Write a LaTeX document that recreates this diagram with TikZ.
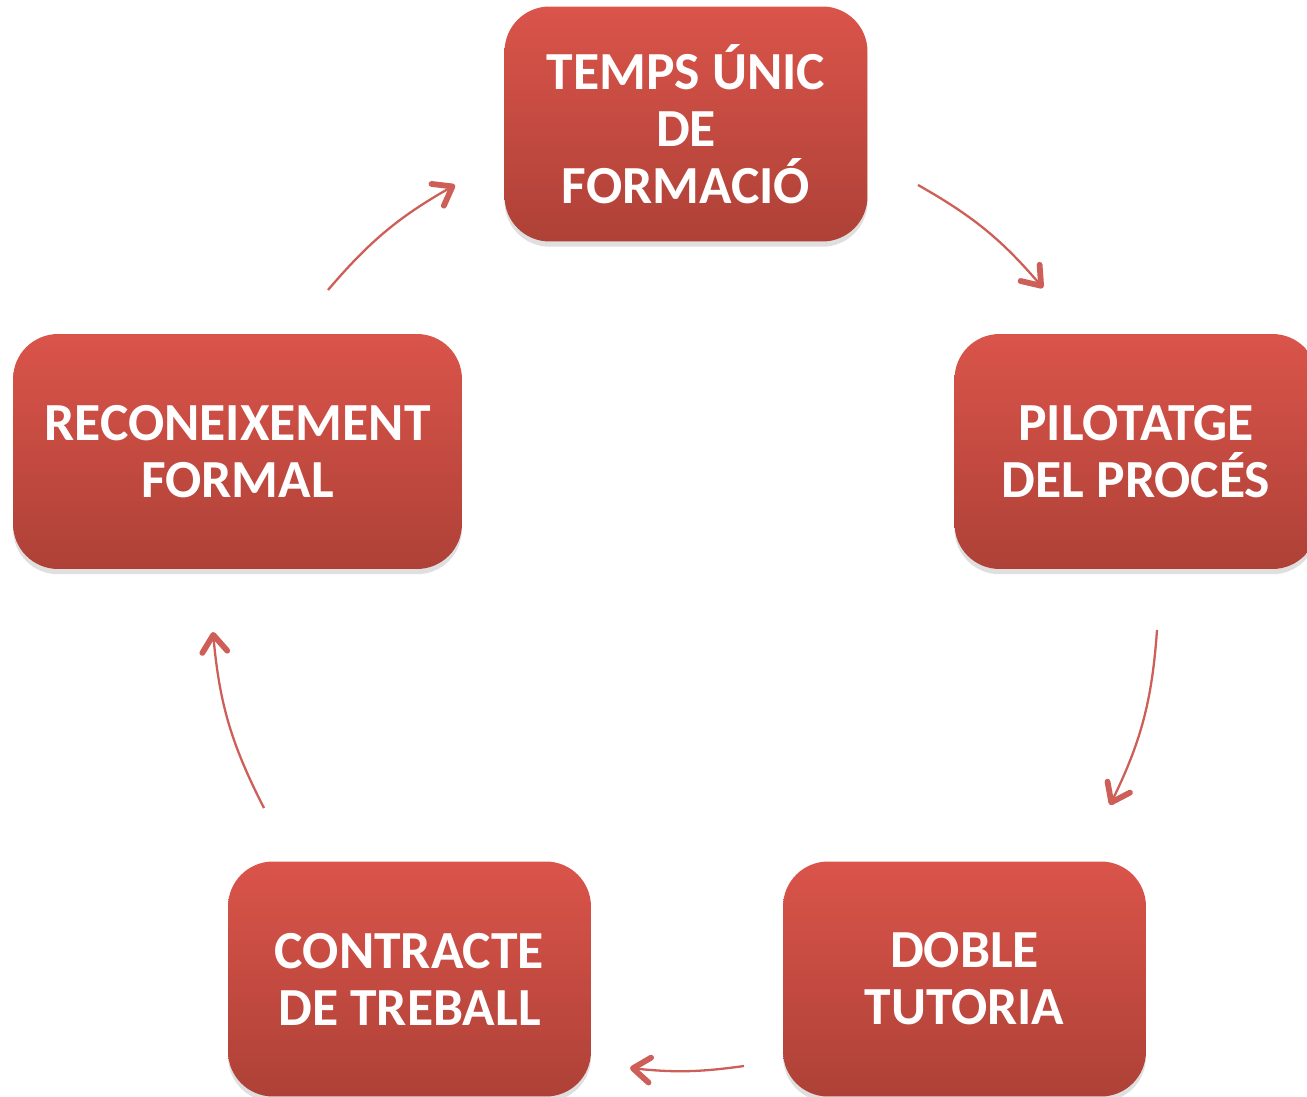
\documentclass[tikz,border=0pt]{standalone}
\usepackage{fontspec}
\setmainfont{Carlito}
\usetikzlibrary{
  positioning,
  shadows,
  arrows.meta,
  calc,
  }
\definecolor{boxtop}{HTML}{DA544A}
\definecolor{boxbot}{HTML}{AE4137}
\definecolor{arrowred}{HTML}{CD5E58}

\begin{document}
\begin{tikzpicture}[x=0.02cm, y=-0.02cm,
        stage/.style={rectangle, rounded corners=0.9cm, top color=boxtop, bottom color=boxbot,
            text=white, font=\bfseries\fontsize{30.5}{32.4}\selectfont, align=center,
            minimum width=7.26cm, minimum height=4.7cm, inner sep=0pt,
            drop shadow={shadow xshift=0pt, shadow yshift=-3pt, opacity=0.25}},
        cyc/.style={draw=arrowred, line width=1.3pt,
            -{Straight Barb[length=3.4mm, width=5mm, line width=3.3pt, round]}}]
                \useasboundingbox (0,0) rectangle (1307,1097);

                % the five stages
                \node[stage] (temps) at (686,124) {TEMPS ÚNIC\\DE\\FORMACIÓ};
                \node[stage] (pilot) at (1136,451.5) {PILOTATGE\\DEL PROCÉS};
                \node[stage] (tutor) at (964.5,979) {DOBLE\\TUTORIA};
                \node[stage] (contr) at (409.5,979) {CONTRACTE\\DE TREBALL};
                \node[stage, minimum width=8.98cm] (recon) at (237.5,451.5) {RECONEIXEMENT\\FORMAL};

                % ends of the arrows
                \coordinate (a1) at (918,185);  \coordinate (b1) at (1043,288);
                \coordinate (a2) at (1157,630); \coordinate (b2) at (1110,805);
                \coordinate (a3) at (744,1066); \coordinate (b3) at (630,1068);
                \coordinate (a4) at (264,808);  \coordinate (b4) at (213,632);
                \coordinate (a5) at (328,290);  \coordinate (b5) at (455,185);

                \draw[cyc] (a1) to[bend left=10] (b1);
                \draw[cyc] (a2) to[bend left=11] (b2);
                \draw[cyc] (a3) to[bend left=7] (b3);
                \draw[cyc] (a4) to[bend left=11] (b4);
                \draw[cyc] (a5) to[bend left=10] (b5);
            \end{tikzpicture}
\end{document}
